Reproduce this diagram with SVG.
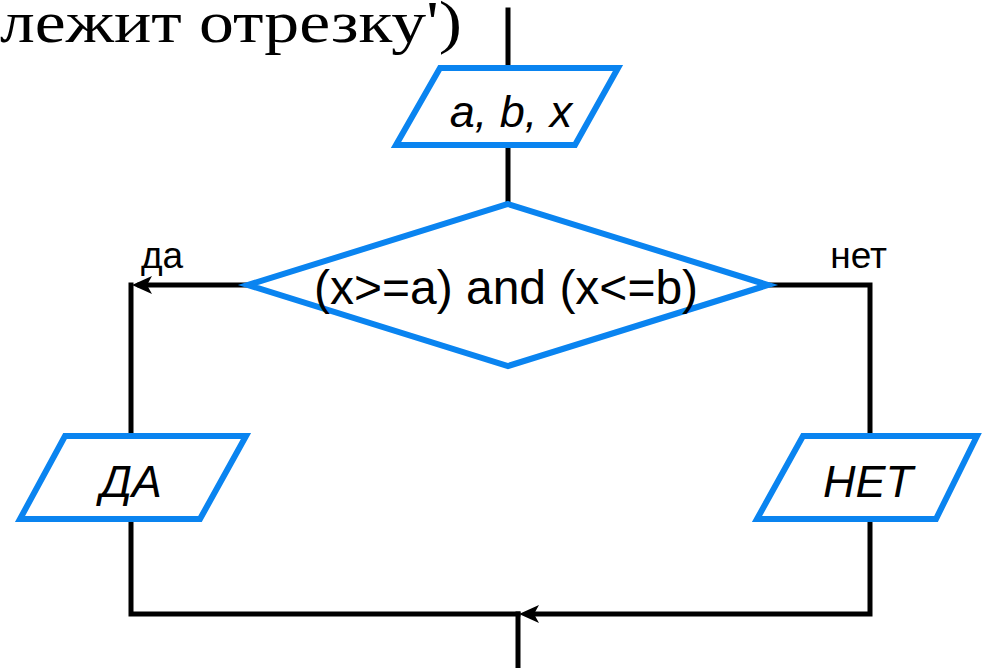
<svg xmlns="http://www.w3.org/2000/svg" width="982" height="668" viewBox="0 0 982 668">
<style>
.shape{fill:#fff;stroke:#0a84f0;stroke-width:6;stroke-linejoin:miter}
.line{fill:none;stroke:#000;stroke-width:5;stroke-linecap:square}
.head{fill:#000;stroke:none}
.lbl{font-family:"Liberation Sans",Arial,sans-serif;fill:#000}
.it{font-style:italic;font-size:45px;text-anchor:middle}
</style>
<rect width="982" height="668" fill="#fff"/>
<text x="0" y="42" font-family="Liberation Serif,Times New Roman,serif" font-size="60" textLength="462" lengthAdjust="spacingAndGlyphs">лежит отрезку')</text>
<g id="connectors">
<line class="line" x1="508" y1="10" x2="508" y2="66"/>
<line class="line" x1="508" y1="147" x2="508" y2="203"/>
<polyline class="line" points="245,285 140,285"/>
<polygon class="head" points="132,285 152,276 147,285 152,294"/>
<line class="line" x1="131" y1="285" x2="131" y2="436"/>
<polyline class="line" points="770,285 870,285 870,436"/>
<polyline class="line" points="131,519 131,614 518,614"/>
<polyline class="line" points="870,519 870,614 530,614"/>
<polygon class="head" points="519,614 539,605 534,614 539,623"/>
<line class="line" x1="518" y1="614" x2="518" y2="668"/>
</g>
<g id="input">
<polygon class="shape" points="440,68 618,68 575,145 396,145"/>
<text class="lbl it" x="511" y="127">a, b, x</text>
</g>
<g id="decision">
<polygon class="shape" points="508,204 768,285 508,366 248,285"/>
<text class="lbl" x="506" y="304" font-size="48" text-anchor="middle">(x&gt;=a) and (x&lt;=b)</text>
</g>
<text class="lbl" x="141" y="268" font-size="37">да</text>
<text class="lbl" x="887" y="268" font-size="37" text-anchor="end">нет</text>
<g id="yes">
<polygon class="shape" points="65,436 246,436 200,519 20,519"/>
<text class="lbl it" x="131" y="497">ДА</text>
</g>
<g id="no">
<polygon class="shape" points="803,436 977,436 936,519 757,519"/>
<text class="lbl it" x="868" y="497">НЕТ</text>
</g>
</svg>
